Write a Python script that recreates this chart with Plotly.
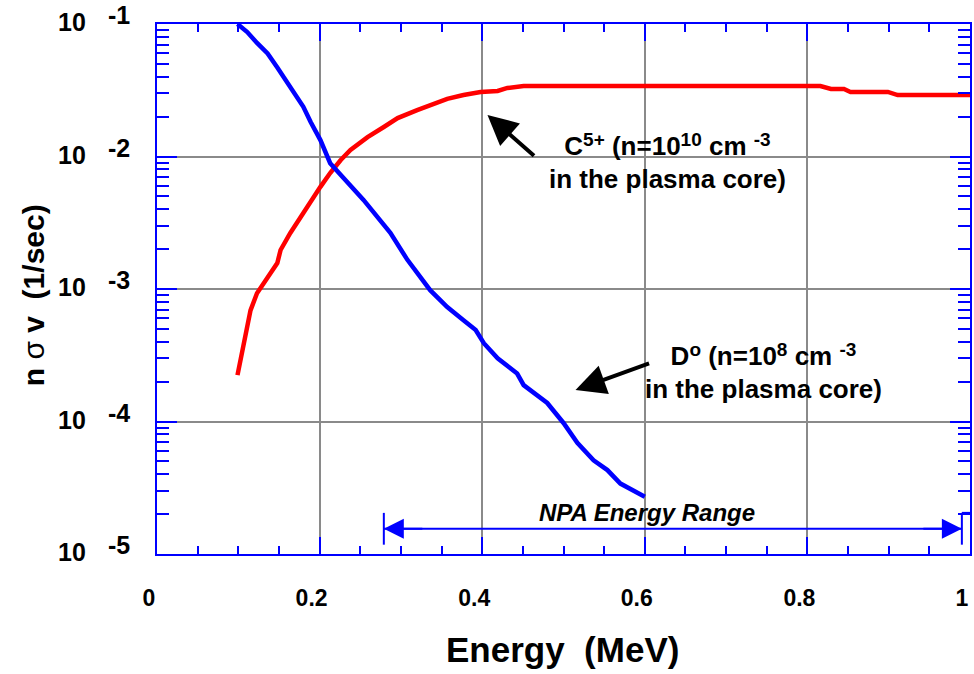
import math
import plotly.graph_objects as go

# ---------------- data ----------------
energy_D = [0.099, 0.111, 0.123, 0.136, 0.148, 0.164, 0.180, 0.189, 0.201, 0.213,
            0.229, 0.254, 0.287, 0.308, 0.336, 0.357, 0.377, 0.392, 0.402, 0.419,
            0.443, 0.451, 0.480, 0.500, 0.517, 0.537, 0.554, 0.570, 0.600]
rate_D = [1.0e-1, 8.7e-2, 7.2e-2, 6.0e-2, 4.7e-2, 3.35e-2, 2.37e-2, 1.82e-2, 1.33e-2, 8.9e-3,
          7.0e-3, 4.7e-3, 2.65e-3, 1.66e-3, 9.8e-4, 7.3e-4, 5.8e-4, 4.9e-4, 3.9e-4, 3.0e-4,
          2.3e-4, 1.88e-4, 1.38e-4, 9.75e-5, 6.9e-5, 5.1e-5, 4.3e-5, 3.4e-5, 2.7e-5]

energy_C = [0.099, 0.111, 0.115, 0.123, 0.136, 0.148, 0.152, 0.164, 0.180, 0.192,
            0.201, 0.213, 0.226, 0.238, 0.259, 0.279, 0.296, 0.320, 0.336, 0.357,
            0.377, 0.398, 0.419, 0.431, 0.451, 0.816, 0.829, 0.845, 0.853, 0.899,
            0.911, 1.0]
rate_C = [2.24e-4, 4.9e-4, 6.9e-4, 9.3e-4, 1.23e-3, 1.57e-3, 1.97e-3, 2.65e-3, 3.75e-3, 4.95e-3,
          5.9e-3, 7.5e-3, 9.4e-3, 1.12e-2, 1.40e-2, 1.67e-2, 1.95e-2, 2.24e-2, 2.45e-2, 2.72e-2,
          2.91e-2, 3.07e-2, 3.12e-2, 3.29e-2, 3.40e-2, 3.40e-2, 3.23e-2, 3.23e-2, 3.07e-2, 3.07e-2,
          2.91e-2, 2.91e-2]

x_tick_step = 0.2
x_minor_step = 0.05
y_exponents = [-1, -2, -3, -4, -5]

npa_range = [0.279, 0.990]
npa_level = 1.55e-5
npa_label_x = 0.603

# label anchor positions (data units)
c_arrow_tip = (0.4065, 0.0206)
c_arrow_tail = (0.4656, 0.0099)
c_label_pos = (0.628, 0.0091)
d_arrow_tip = (0.5148, 1.73e-4)
d_arrow_tail = (0.6071, 2.77e-4)
d_label_pos = (0.746, 2.37e-4)

FONT = "Arial, Liberation Sans, sans-serif"
BLUE = "#0000FF"
RED = "#FF0000"
GRID = "#8a8a8a"


def sup(s):
    return "<span style='font-size:19px;baseline-shift:45%'>" + s + "</span>"


fig = go.Figure()
fig.add_trace(go.Scatter(x=energy_C, y=rate_C, mode="lines",
                         line=dict(color=RED, width=4.5), showlegend=False))
fig.add_trace(go.Scatter(x=energy_D, y=rate_D, mode="lines",
                         line=dict(color=BLUE, width=4.5), showlegend=False))

# NPA energy range line and end bars
fig.add_trace(go.Scatter(x=npa_range, y=[npa_level, npa_level], mode="lines",
                         line=dict(color=BLUE, width=2), showlegend=False))
bar_top, bar_bot = npa_level * 10 ** 0.12, npa_level / 10 ** 0.12
for xe in npa_range:
    fig.add_trace(go.Scatter(x=[xe, xe], y=[bar_top, bar_bot], mode="lines",
                             line=dict(color=BLUE, width=2), showlegend=False))
fig.add_trace(go.Scatter(x=[npa_range[1], 1.0], y=[bar_top, bar_top], mode="lines",
                         line=dict(color=BLUE, width=2), showlegend=False, cliponaxis=False))

ann = []
ly = math.log10(npa_level)
ann.append(dict(x=npa_range[0], y=ly, xref="x", yref="y", ax=40, ay=0,
                showarrow=True, arrowhead=2, arrowsize=2.0, arrowwidth=2,
                arrowcolor=BLUE, text=""))
ann.append(dict(x=npa_range[1], y=ly, xref="x", yref="y", ax=-40, ay=0,
                showarrow=True, arrowhead=2, arrowsize=2.0, arrowwidth=2,
                arrowcolor=BLUE, text=""))
ann.append(dict(x=npa_label_x, y=ly, xref="x", yref="y",
                yshift=16, showarrow=False, xanchor="center",
                text="<b><i>NPA Energy Range</i></b>",
                font=dict(family=FONT, size=24, color="black")))

# C5+ arrow & label
ann.append(dict(x=c_arrow_tip[0], y=math.log10(c_arrow_tip[1]),
                ax=c_arrow_tail[0], ay=math.log10(c_arrow_tail[1]),
                xref="x", yref="y", axref="x", ayref="y",
                showarrow=True, arrowhead=2, arrowsize=1.5, arrowwidth=4,
                arrowcolor="black", text=""))
ann.append(dict(x=c_label_pos[0], y=math.log10(c_label_pos[1]), xref="x", yref="y",
                showarrow=False, align="center", xanchor="center",
                text="<b>C" + sup("5+") + " (n=10" + sup("10") + " cm " + sup("-3")
                     + "<br>in the plasma core)</b>",
                font=dict(family=FONT, size=26, color="black")))

# D0 arrow & label
ann.append(dict(x=d_arrow_tip[0], y=math.log10(d_arrow_tip[1]),
                ax=d_arrow_tail[0], ay=math.log10(d_arrow_tail[1]),
                xref="x", yref="y", axref="x", ayref="y",
                showarrow=True, arrowhead=2, arrowsize=1.5, arrowwidth=4,
                arrowcolor="black", text=""))
ann.append(dict(x=d_label_pos[0], y=math.log10(d_label_pos[1]), xref="x", yref="y",
                showarrow=False, align="center", xanchor="center",
                text="<b>D" + sup("o") + " (n=10" + sup("8") + " cm " + sup("-3")
                     + "<br>in the plasma core)</b>",
                font=dict(family=FONT, size=26, color="black")))

# y tick labels: "10" with separate exponent
for e in y_exponents:
    ann.append(dict(x=-0.104, y=e, xref="paper", yref="y", yshift=2, xanchor="center",
                    showarrow=False, text="<b>10</b>",
                    font=dict(family=FONT, size=25, color="black")))
    ann.append(dict(x=-0.047, y=e, xref="paper", yref="y", yshift=9, xanchor="center",
                    showarrow=False, text="<b>%d</b>" % e,
                    font=dict(family=FONT, size=25, color="black")))

# axis titles
ann.append(dict(x=0.499, y=-0.181, xref="paper", yref="paper", showarrow=False,
                xanchor="center", yanchor="middle",
                text="<b>Energy  (MeV)</b>",
                font=dict(family=FONT, size=35, color="black")))
ann.append(dict(x=-0.152, y=0.489, xref="paper", yref="paper", showarrow=False,
                xanchor="center", yanchor="middle", textangle=-90,
                text="<b>n <span style='font-weight:normal'>σ</span> v  (1/sec)</b>",
                font=dict(family=FONT, size=30, color="black")))

fig.update_layout(
    width=974, height=674,
    margin=dict(l=157, r=4, t=24, b=120, autoexpand=False),
    plot_bgcolor="white", paper_bgcolor="white",
    annotations=ann,
    showlegend=False,
)

fig.update_xaxes(
    range=[0, 1], tick0=0, dtick=x_tick_step, automargin=False,
    ticks="inside", ticklen=17, tickwidth=2, tickcolor=BLUE,
    showline=True, linecolor=BLUE, linewidth=2, mirror="allticks",
    showgrid=True, gridcolor=GRID, gridwidth=1.5, zeroline=False,
    minor=dict(ticks="inside", ticklen=8, tickwidth=2, tickcolor=BLUE,
               tick0=0, dtick=x_minor_step, showgrid=False),
    tickfont=dict(family=FONT, size=23, color="black", weight="bold"),
    ticklabelstandoff=22, ticklabeloverflow="allow", ticklabelshift=-8,
)
fig.update_yaxes(
    type="log", range=[-5, -1], dtick=1, automargin=False,
    ticks="inside", ticklen=20, tickwidth=2, tickcolor=BLUE,
    showline=True, linecolor=BLUE, linewidth=2, mirror="allticks",
    showgrid=True, gridcolor=GRID, gridwidth=1.5, zeroline=False,
    minor=dict(ticks="inside", ticklen=12, tickwidth=2, tickcolor=BLUE, dtick="D1", showgrid=False),
    showticklabels=False,
)

fig.write_html("out.html", config={"displayModeBar": False},
               post_script="document.body.style.margin='0';document.body.style.overflow='hidden';")
